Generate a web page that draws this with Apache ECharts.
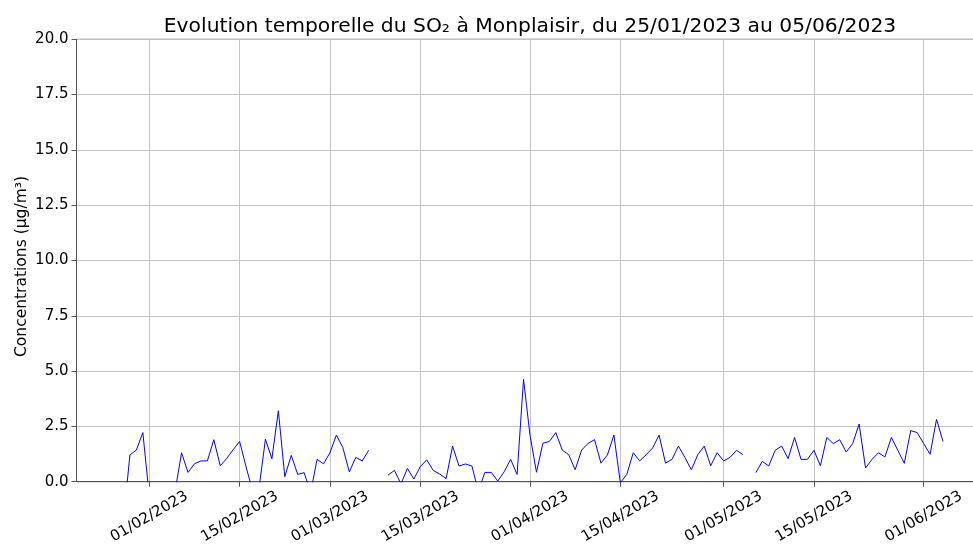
<!DOCTYPE html>
<html>
<head>
<meta charset="utf-8">
<title>SO2 Monplaisir</title>
<script src="https://cdn.jsdelivr.net/npm/echarts@6.0.0/dist/echarts.min.js"></script>
<style>
  html, body { margin: 0; padding: 0; background: #fff; }
  #container { width: 973px; height: 546px; }
</style>
</head>
<body>
<div id="container"></div>
<script>
// daily values, first day = 25/01/2023 (null = no data, values < 0 are clipped by the axis)
var startDay = '2023-01-25';
var so2 = [
    null, null, null, -1.7, 1.21, 1.43, 2.22,            // 25/01 - 31/01
    -0.65, null, null, null, -0.44, 1.31, 0.42,          // 01/02 - 07/02
    0.81, 0.94, 0.94, 1.90, 0.72, 1.05, 1.45,            // 08/02 - 14/02
    1.82, 0.67, -0.4, -0.3, 1.92, 1.04, 3.21,            // 15/02 - 21/02
    0.23, 1.19, 0.33, 0.41, -0.5, 1.01, 0.81,            // 22/02 - 28/02
    1.31, 2.11, 1.54, 0.44, 1.10, 0.94, 1.42,            // 01/03 - 07/03
    null, null, 0.30, 0.51, -0.1, 0.60, 0.12,            // 08/03 - 14/03
    0.68, 0.99, 0.51, 0.35, 0.14, 1.61, 0.71,            // 15/03 - 21/03
    0.80, 0.71, -0.45, 0.42, 0.42, 0.03, 0.45,           // 22/03 - 28/03
    1.01, 0.33, 4.63, 2.1, 0.43, 1.74, 1.82,             // 29/03 - 04/04
    2.22, 1.43, 1.22, 0.54, 1.43, 1.73, 1.90,            // 05/04 - 11/04
    0.84, 1.21, 2.11, -0.05, 0.33, 1.31, 0.94,           // 12/04 - 18/04
    1.22, 1.52, 2.11, 0.84, 1.01, 1.61, 1.10,            // 19/04 - 25/04
    0.54, 1.22, 1.61, 0.72, 1.31, 0.94, 1.10,            // 26/04 - 02/05
    1.42, 1.22, null, 0.41, 0.92, 0.71, 1.42,            // 03/05 - 09/05
    1.61, 1.04, 2.0, 1.01, 1.01, 1.42, 0.72,             // 10/05 - 16/05
    2.0, 1.72, 1.90, 1.34, 1.72, 2.61, 0.62,             // 17/05 - 23/05
    1.01, 1.31, 1.12, 2.0, 1.42, 0.83, 2.31,             // 24/05 - 30/05
    2.22, 1.73, 1.24, 2.82, 1.82                         // 31/05 - 04/06
];
var tickLabels = ['01/02/2023', '15/02/2023', '01/03/2023', '15/03/2023', '01/04/2023',
    '15/04/2023', '01/05/2023', '15/05/2023', '01/06/2023'];

var DAY = 86400000;
function parseFr(s) {
    var p = s.split('/');
    return Date.UTC(+p[2], +p[1] - 1, +p[0]);
}
function fmtFr(t) {
    var d = new Date(t);
    var dd = ('0' + d.getUTCDate()).slice(-2);
    var mm = ('0' + (d.getUTCMonth() + 1)).slice(-2);
    return dd + '/' + mm + '/' + d.getUTCFullYear();
}

var t0 = Date.parse(startDay + 'T00:00:00Z');
var points = so2.map(function (v, i) {
    return [t0 + i * DAY, v];
});
var tickValues = tickLabels.map(parseFr);
var feb1 = parseFr('01/02/2023');

var chart = echarts.init(document.getElementById('container'));
chart.setOption({
    backgroundColor: '#fff',
    animation: false,
    textStyle: { fontFamily: 'DejaVu Sans' },
    title: {
        text: 'Evolution temporelle du SO₂ à Monplaisir, du 25/01/2023 au 05/06/2023',
        left: 525,
        textAlign: 'center',
        top: 12,
        textStyle: { fontFamily: 'DejaVu Sans', fontSize: 20.3, fontWeight: 'normal', color: '#000' }
    },
    grid: {
        left: 76.5,
        right: -10,
        top: 39.3,
        bottom: 64.3,
        outerBoundsMode: 'none',
        containLabel: false,
        show: true,
        borderColor: '#555',
        borderWidth: 1
    },
    xAxis: {
        type: 'value',
        min: feb1 - 11.28 * DAY,
        max: feb1 + 129.2 * DAY,
        axisLine: { show: true, lineStyle: { color: '#555', width: 1 } },
        axisTick: {
            show: true,
            customValues: tickValues,
            length: 5,
            lineStyle: { color: '#555' }
        },
        axisLabel: {
            customValues: tickValues,
            rotate: 30,
            align: 'center',
            verticalAlign: 'middle',
            margin: 35,
            fontSize: 15,
            color: '#000',
            formatter: function (v) { return fmtFr(v); }
        },
        splitLine: { show: true, lineStyle: { color: '#c4c4c4', width: 1 } }
    },
    yAxis: {
        type: 'value',
        min: 0,
        max: 20,
        interval: 2.5,
        name: 'Concentrations (µg/m³)',
        nameLocation: 'middle',
        nameGap: 47,
        nameMoveOverlap: false,
        nameTextStyle: { fontSize: 15.5, color: '#000', padding: [0, 12, 0, 0] },
        axisLine: { show: true, lineStyle: { color: '#555', width: 1 } },
        axisTick: { show: true, length: 5, lineStyle: { color: '#555' } },
        axisLabel: {
            fontSize: 15,
            color: '#000',
            margin: 8,
            formatter: function (v) { return v.toFixed(1); }
        },
        splitLine: { show: true, lineStyle: { color: '#c4c4c4', width: 1 } }
    },
    series: [{
        type: 'line',
        data: points,
        showSymbol: false,
        connectNulls: false,
        clip: true,
        lineStyle: { color: '#0000ff', width: 1 },
        itemStyle: { color: '#0000ff' }
    }]
});
</script>
</body>
</html>
